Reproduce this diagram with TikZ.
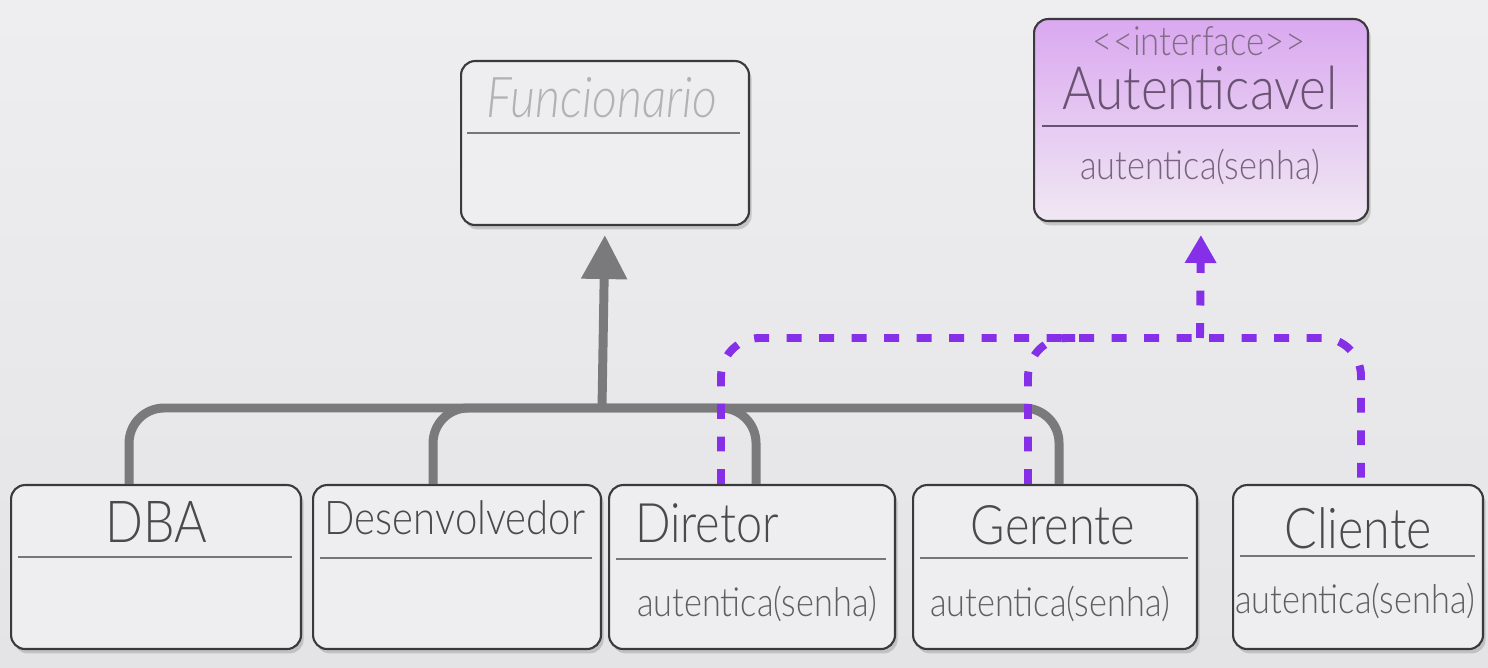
\documentclass[tikz,border=0pt]{standalone}
\usepackage{fontspec}
\setmainfont{Lato Light}[FakeStretch=0.86]
\usetikzlibrary{shadows,arrows.meta}
\definecolor{bgtop}{HTML}{EEEEF0}
\definecolor{bgbot}{HTML}{E4E4E7}
\definecolor{boxline}{HTML}{3A3A3C}
\definecolor{boxfill}{HTML}{EEEEF1}
\definecolor{sepc}{HTML}{767678}
\definecolor{txt}{HTML}{4A4A4C}
\definecolor{mtxt}{HTML}{5E5E60}
\definecolor{gen}{HTML}{7A7A7C}
\definecolor{iface}{HTML}{8530E8}
\definecolor{ifTop}{HTML}{DAA8F0}
\definecolor{ifBot}{HTML}{F0E8F3}
\definecolor{iftxt}{HTML}{6A5272}
\tikzset{
  cls/.style={draw=boxline, line width=1.2pt, rounded corners=8pt, fill=boxfill,
    anchor=north west, inner sep=0pt,
    drop shadow={shadow xshift=1.5pt, shadow yshift=-2.5pt, opacity=0.35}},
  nm/.style={anchor=base, inner sep=0pt, text=txt, font=\fontsize{31}{34}\selectfont},
  mt/.style={anchor=base, inner sep=0pt, text=mtxt, font=\fontsize{22.7}{25}\selectfont},
  sepl/.style={draw=sepc, line width=1.7pt},
  genl/.style={draw=gen, line width=5.1pt, rounded corners=20pt},
  ifl/.style={draw=iface, line width=4.5pt, rounded corners=22pt,
    dash pattern=on 8.5pt off 10pt}
}
\begin{document}
\begin{tikzpicture}[x=0.02cm,y=-0.02cm]
\shade[top color=bgtop, bottom color=bgbot] (0,0) rectangle (1488,668);
\useasboundingbox (0,0) rectangle (1488,668);

% boxes
\node[cls, minimum width=5.76cm, minimum height=3.28cm] (func) at (460,60) {};
\node[cls, minimum width=6.68cm, minimum height=4.04cm, top color=ifTop, bottom color=ifBot] (aut) at (1033,18) {};
\node[cls, minimum width=5.8cm, minimum height=3.28cm] (dba) at (10,484) {};
\node[cls, minimum width=5.76cm, minimum height=3.28cm] (des) at (312,484) {};
\node[cls, minimum width=5.72cm, minimum height=3.28cm] (dir) at (608,484) {};
\node[cls, minimum width=5.68cm, minimum height=3.28cm] (ger) at (912,484) {};
\node[cls, minimum width=5.0cm, minimum height=3.28cm] (cli) at (1232,484) {};

% separators
\draw[sepl] (467,133) -- (740,133);
\draw[sepl, draw=iftxt] (1042,126) -- (1358,126);
\draw[sepl] (18,557) -- (292,557);
\draw[sepl] (320,558) -- (592,558);
\draw[sepl] (616,559) -- (886,559);
\draw[sepl] (920,558) -- (1188,558);
\draw[sepl] (1240,556) -- (1475,556);

% texts
\node[nm, text=black!30, font=\fontsize{32}{35}\selectfont\itshape] (funcT) at (602,118) {Funcionario};
\node[anchor=base, inner sep=0pt, text=iftxt!85, font=\fontsize{23}{25}\selectfont] (autS) at (1199,56) {{<}{<}interface{>}{>}};
\node[anchor=base, inner sep=0pt, text=iftxt, font=\fontsize{34}{37}\selectfont] (autT) at (1200,110) {Autenticavel};
\node[mt, text=iftxt!90] (autM) at (1200,180) {autentica(senha)};
\node[nm, font=\fontsize{33}{36}\selectfont] (dbaT) at (156,543) {DBA};
\node[nm, font=\fontsize{26.5}{29}\selectfont] (desT) at (455,535) {Desenvolvedor};
\node[nm] (dirT) at (707,543) {Diretor};
\node[nm] (gerT) at (1053,545) {Gerente};
\node[nm, font=\fontsize{32}{35}\selectfont] (cliT) at (1358,549) {Cliente};
\node[mt] (dirM) at (757,617) {autentica(senha)};
\node[mt] (gerM) at (1050,617) {autentica(senha)};
\node[mt] (cliM) at (1355,614) {autentica(senha)};

% generalization
\coordinate (bar) at (602,408);
\draw[genl] ([xshift=-0.54cm]dba.north) |- (bar) -| ([xshift=0.08cm]dir.north);
\draw[genl] ([xshift=-0.48cm]des.north) |- (bar) -| ([xshift=0.08cm]ger.north);
\draw[genl, rounded corners=0pt, -{Triangle[width=0.88cm, length=0.88cm]}, shorten >=0.18cm] (bar) -- (func.south);

% realization
\coordinate (ibar) at (1200,338);
\coordinate (gjoin) at (1075,338);
\draw[ifl] ([xshift=-0.62cm]dir.north) |- (ibar) -| ([xshift=0.06cm]cli.north);
\draw[ifl] ([xshift=-0.54cm]ger.north) |- (gjoin);
\draw[ifl, rounded corners=0pt, -{Triangle[width=0.6cm, length=0.56cm]}, shorten >=0.26cm] (ibar) -- (aut.south);
\end{tikzpicture}
\end{document}
